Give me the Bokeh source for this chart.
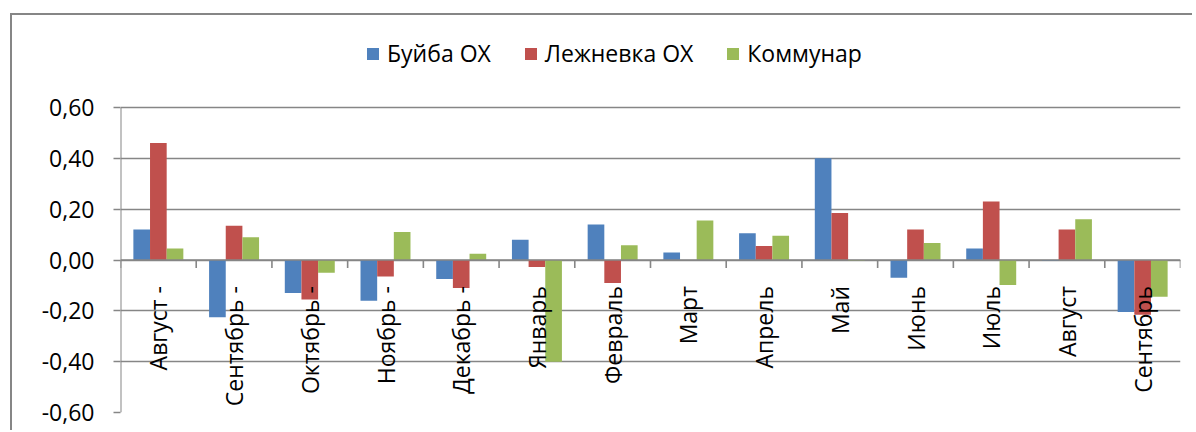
from bokeh.plotting import figure
from bokeh.models import FactorRange, FixedTicker, Legend, LegendItem
from bokeh.transform import dodge
from bokeh.core.properties import value
from bokeh.embed import file_html
from bokeh.resources import INLINE

categories = ["Август -", "Сентябрь -", "Октябрь -", "Ноябрь -", "Декабрь -", "Январь",
              "Февраль", "Март", "Апрель", "Май", "Июнь", "Июль", "Август", "Сентябрь"]
buyba = [0.12, -0.225, -0.13, -0.16, -0.075, 0.08, 0.14, 0.03, 0.105, 0.40, -0.07, 0.045, -0.003, -0.205]
lezhnevka = [0.46, 0.135, -0.155, -0.065, -0.11, -0.028, -0.09, 0.0, 0.055, 0.185, 0.12, 0.23, 0.12, -0.215]
kommunar = [0.045, 0.09, -0.05, 0.11, 0.025, -0.40, 0.058, 0.155, 0.095, -0.003, 0.067, -0.098, 0.16, -0.145]
series_names = ["Буйба ОХ", "Лежневка ОХ", "Коммунар"]
y_ticks = [-0.6, -0.4, -0.2, 0.0, 0.2, 0.4, 0.6]
y_tick_labels = ["-0,60", "-0,40", "-0,20", "0,00", "0,20", "0,40", "0,60"]

colors = ["#4F81BD", "#C0504D", "#9BBB59"]
grid_color = "#868686"
FONT = "Open Sans"
FS = "23px"

# layout (pixels)
W, H = 1180, 415
left_pad, top_pad = 108, 5
plot_w, plot_h = 1060, 305          # area between the outer gridlines
legend_gap = 87                     # space above the top gridline used by the legend
frame_h = plot_h + legend_gap
unit = (y_ticks[-1] - y_ticks[0]) / plot_h
y_top = y_ticks[-1] + legend_gap * unit

p = figure(x_range=FactorRange(factors=categories, range_padding=0),
           y_range=(y_ticks[0], y_top),
           width=W, height=H, output_backend="svg", toolbar_location=None,
           min_border_left=left_pad, min_border_top=top_pad,
           min_border_right=W - left_pad - plot_w, min_border_bottom=H - top_pad - frame_h)
p.frame_width = plot_w
p.frame_height = frame_h
p.styles = {"border-left": "2px solid #868686", "border-top": "2px solid #868686",
            "margin-left": "10px", "margin-top": "13px"}
p.outline_line_color = None
p.background_fill_color = "white"
p.border_fill_color = "white"

p.xaxis.visible = False
p.xgrid.visible = False
p.ygrid.ticker = FixedTicker(ticks=y_ticks)
p.ygrid.grid_line_color = grid_color
p.ygrid.grid_line_width = 1.6

yax = p.yaxis[0]
yax.ticker = FixedTicker(ticks=y_ticks)
yax.major_label_overrides = {t: l for t, l in zip(y_ticks, y_tick_labels)}
yax.major_label_text_font = FONT
yax.major_label_text_font_size = FS
yax.major_label_text_color = "black"
yax.axis_line_color = None
yax.major_tick_line_color = grid_color
yax.major_tick_line_width = 1.6
yax.major_tick_out = 7
yax.major_tick_in = 0
yax.minor_tick_line_color = None
yax.major_label_standoff = 19

# vertical axis line only between outer gridlines
p.segment(x0=[0], x1=[0], y0=[y_ticks[0]], y1=[y_ticks[-1]], line_color=grid_color, line_width=2)

source = {"cat": categories, "b": buyba, "l": lezhnevka, "k": kommunar}
bw = 0.22
renderers = []
for key, off, col in zip(["b", "l", "k"], [-bw, 0.0, bw], colors):
    r = p.vbar(x=dodge("cat", off, range=p.x_range), top=key, bottom=0, width=bw,
               source=source, fill_color=col, line_color=None)
    renderers.append(r)

# zero line with category boundary ticks
p.segment(x0=[0], x1=[len(categories)], y0=[0], y1=[0], line_color=grid_color, line_width=1.6)
tick_len = 8 * unit
bounds = list(range(len(categories) + 1))
p.segment(x0=bounds, x1=bounds, y0=[0] * len(bounds), y1=[-tick_len] * len(bounds),
          line_color=grid_color, line_width=1.6)

# category labels, vertical, hanging below the zero line
p.text(x=categories, y=[0] * len(categories), text=categories, angle=1.5708,
       text_align="right", text_baseline="middle", y_offset=26,
       text_font=value(FONT), text_font_size=FS, text_color="black")

legend = Legend(items=[LegendItem(label=n, renderers=[r]) for n, r in zip(series_names, renderers)],
                orientation="horizontal", location=(245, 343),
                glyph_width=15, glyph_height=15, label_standoff=7, spacing=32,
                padding=0, margin=0, border_line_color=None, background_fill_alpha=0,
                label_text_font=FONT, label_text_font_size=FS, label_text_color="black")
p.add_layout(legend)

open("out.html", "w").write(file_html(p, INLINE))
